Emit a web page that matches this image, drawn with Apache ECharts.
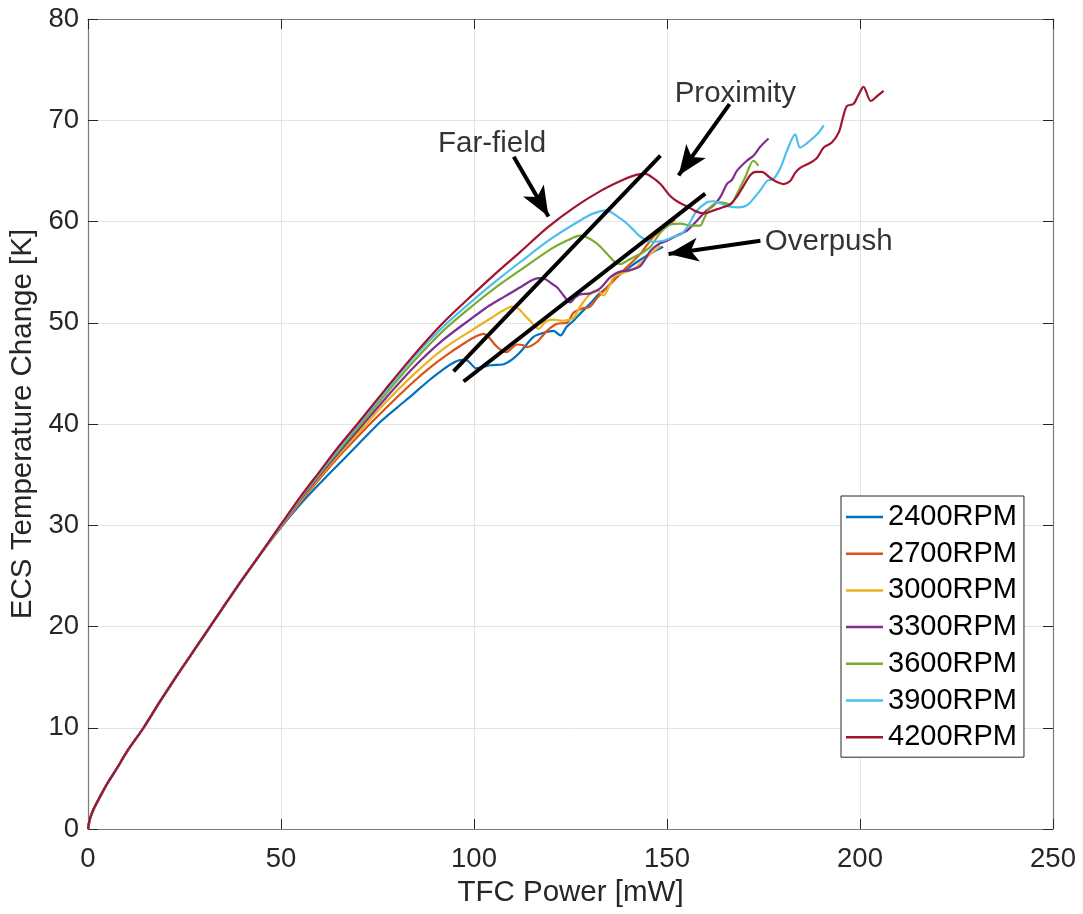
<!DOCTYPE html>
<html>
<head>
<meta charset="utf-8">
<script src="https://cdn.jsdelivr.net/npm/echarts@6/dist/echarts.min.js"></script>
<style>
html,body{margin:0;padding:0;background:#fff;}
#chart{width:1083px;height:914px;}
</style>
</head>
<body>
<div id="chart"></div>
<script>
// ---- data (TFC Power [mW], ECS Temperature Change [K]) ----
const seriesNames = ['2400RPM','2700RPM','3000RPM','3300RPM','3600RPM','3900RPM','4200RPM'];
const seriesColors = ['#0072BD','#D95319','#EDB120','#7E2F8E','#77AC30','#4DBEEE','#A2142F'];

const commonStart = [[0,0],[0.5,1.0],[1.5,2.0],[3,3.1],[5,4.5],[7.5,6.0],[10,7.6],[14.4,10.0],[18.5,12.5],[22.6,14.9],[26.5,17.1],[30.5,19.35],[34.5,21.6],[38.6,23.9],[44,26.8]];

const rpm2400 = [[50,29.8],[56,32.5],[62.8,35.2],[69,37.6],[75.7,40.2],[80,41.6],[84.4,43.0],[88,44.2],[91,45.1],[94,45.9],[96.5,46.3],[98,46.3],[99.3,45.9],[100.5,45.5],[102,45.6],[104.2,45.8],[107.7,45.9],[110,46.4],[112,47.1],[115.4,48.6],[118,49.0],[120.6,49.2],[122.4,48.75],[124,49.6],[125.8,50.2],[127.5,50.9],[130.1,51.9],[132.3,52.8],[134.5,53.5],[137,54.5],[140,55.4],[143,56.2],[146,56.9],[149,57.5]];
const rpm2700 = [[50,29.85],[55,32.3],[60,34.6],[65,36.8],[70,38.8],[77,41.5],[84.4,44.2],[89,45.7],[94,47.1],[98,48.1],[100.2,48.6],[102.5,48.9],[104,48.5],[105.5,47.8],[107,47.3],[108.4,47.1],[109.8,47.5],[111.1,47.85],[112.5,47.8],[113.7,47.6],[116.3,48.1],[118.9,49.2],[121.5,49.9],[124.1,50.0],[125.8,51.0],[128,51.4],[130.1,51.6],[132,52.5],[134.5,53.5],[136.5,54.3],[138.8,55.2],[141,56.0],[143.1,56.8],[146.5,58.5],[149.5,59.4],[152.1,60.2]];
const rpm3000 = [[50,29.9],[55,32.4],[60,34.75],[65,37.0],[70,39.1],[77,42.1],[84.4,44.9],[92,47.4],[100,49.4],[105,50.6],[108,51.3],[109.8,51.6],[111.5,51.4],[113,50.8],[114.5,50.2],[116,49.6],[116.7,49.4],[118.5,50.1],[120.5,50.3],[123,50.2],[125.8,50.5],[127.5,51.6],[130,52.8],[131.9,53.2],[133.6,52.7],[135,53.6],[136.2,54.5],[138.5,54.9],[141.3,55.3],[143.5,56.0],[145.7,56.8],[148.3,57.6]];
const rpm3300 = [[50,29.95],[55,32.5],[60,34.9],[65,37.2],[70,39.4],[77,42.5],[84.4,45.6],[92,48.3],[100,50.6],[104,51.7],[108,52.6],[112,53.5],[114.5,54.1],[116.7,54.4],[118.5,54.3],[120,53.9],[121.5,53.5],[123.2,52.7],[124.9,52.0],[126.2,52.5],[127.5,52.8],[130.1,52.9],[132.7,53.4],[135.3,54.5],[137.5,55.0],[140.4,55.2],[143.1,55.6],[145.7,57.1],[148,57.8],[150,58.1],[152.5,58.6],[155.2,59.1],[157.8,60.1],[160,61.0],[162.1,61.6],[163.8,62.4],[165.5,63.7],[166.8,64.1],[168.1,65.0],[170.7,66.0],[172.4,66.5],[174.2,67.4],[176.3,68.2]];
const rpm3600 = [[50,30.0],[55,32.6],[60,35.05],[65,37.4],[70,39.7],[77,42.9],[84.4,46.2],[92,49.2],[100,51.8],[106,53.6],[112,55.2],[120,57.3],[124,58.1],[127.5,58.6],[129.5,58.4],[131.9,57.8],[134.5,56.8],[136.5,56.0],[137.9,55.8],[139.6,56.1],[141.5,56.5],[143.1,56.8],[145.7,57.5],[148.3,58.9],[150.9,59.7],[153.5,59.8],[156,59.6],[158.6,59.6],[159.5,60.2],[161.2,61.4],[163.8,61.9],[166.4,61.7],[168.1,62.7],[170.3,64.4],[172.4,66.0],[173.7,65.5]];
const rpm3900 = [[50,30.05],[55,32.7],[60,35.2],[65,37.6],[70,39.95],[77,43.2],[84.4,46.6],[92,49.6],[100,52.3],[106,54.2],[112,56.0],[120,58.3],[127.5,60.1],[131,60.8],[134.3,61.1],[136,60.8],[137.9,60.3],[139.6,59.8],[141.5,59.1],[143.1,58.5],[145,58.1],[146.5,58.0],[149.1,58.1],[151.7,58.5],[153.5,58.7],[155.2,59.4],[156.5,60.3],[157.8,61.1],[160.4,61.9],[162,62.0],[163.8,61.8],[166,61.5],[168.5,61.4],[170.7,61.6],[172.5,62.3],[174.2,63.1],[175.9,64.0],[177.6,64.2],[179.4,65.3],[181.1,67.0],[183.2,68.6],[184.5,67.3],[187.1,68.0],[189.3,68.8],[190.6,69.5]];
const rpm4200 = [[50,30.1],[55,32.8],[60,35.3],[65,37.8],[70,40.1],[77,43.4],[84.4,46.8],[92,50.0],[100,52.9],[106,55.0],[112,57.0],[119,59.4],[126,61.4],[132.7,63.0],[138.5,64.1],[142,64.6],[144.4,64.7],[146,64.4],[148.3,63.7],[150.9,62.5],[153,61.9],[155.2,61.5],[157.5,61.0],[159.5,60.8],[162.1,61.1],[164.5,61.4],[166.4,61.7],[168,62.4],[169.8,63.5],[171.6,64.6],[173,64.9],[174.5,64.9],[176.8,64.3],[178.5,63.9],[180.2,63.7],[181.9,64.0],[183.2,64.8],[184.5,65.3],[187.1,65.8],[188.9,66.3],[190.6,67.3],[192.7,67.8],[194.5,68.8],[195.6,70.3],[196.6,71.4],[198.3,71.6],[199.6,72.5],[200.9,73.3],[202.8,71.9],[204.5,72.4],[206.1,72.9]];

const seriesTails = [rpm2400, rpm2700, rpm3000, rpm3300, rpm3600, rpm3900, rpm4200];

// annotation geometry in data units
const boundaryLines = [
  [[94.7,45.2],[148.3,66.5]],
  [[97.3,44.2],[159.9,62.75]]
];
const arrowLines = [
  [[110.3,66.4],[119.3,60.5]],   // Far-field
  [[166.2,71.6],[153.0,64.55]],  // Proximity
  [[174.2,58.1],[150.4,56.8]]    // Overpush
];
const annotationTexts = [
  {text:'Far-field', pos:[104.7,67.7]},
  {text:'Proximity', pos:[167.7,72.6]},
  {text:'Overpush', pos:[191.9,58.0]}
];

const xTicks = {min:0, max:250, interval:50};
const yTicks = {min:0, max:80, interval:10};

// ---- chart ----
const FONT = "'Liberation Sans', Arial, Helvetica, sans-serif";
const chart = echarts.init(document.getElementById('chart'), null, {renderer:'canvas'});

const series = seriesNames.map((name,i)=>({
  name: name,
  type: 'line',
  data: commonStart.concat(seriesTails[i]),
  showSymbol: false,
  symbol: 'none',
  smooth: 0.3,
  lineStyle: {width: 2.2, color: seriesColors[i]},
  itemStyle: {color: seriesColors[i]},
  emphasis: {disabled: true},
  silent: true,
  z: 2
}));

series.push({
  name: 'annotations',
  type: 'line',
  data: [],
  silent: true,
  z: 5,
  markLine: {
    silent: true,
    animation: false,
    label: {show: false},
    emphasis: {disabled: true},
    lineStyle: {color: '#000', width: 4, type: 'solid'},
    data: boundaryLines.map(l=>[
      {coord: l[0], symbol: 'none'},
      {coord: l[1], symbol: 'none'}
    ]).concat(arrowLines.map(l=>[
      {coord: l[0], symbol: 'none'},
      {coord: l[1], symbol: 'arrow', symbolSize: [18, 30]}
    ]))
  }
});

series.push({
  name: 'labels',
  type: 'scatter',
  silent: true,
  symbolSize: 0,
  z: 6,
  data: annotationTexts.map(a=>({value: a.pos, name: a.text})),
  label: {
    show: true,
    position: 'inside',
    formatter: p=>p.name,
    color: '#000000',
    textBorderWidth: 0,
    fontSize: 29.5,
    fontFamily: FONT
  }
});

const axisCommon = {
  axisLine: {show: true, onZero: false, lineStyle: {color: '#7a7a7a', width: 1.2}},
  axisTick: {show: true, inside: true, length: 10, lineStyle: {color: '#262626', width: 1}},
};

chart.setOption({
  animation: false,
  backgroundColor: '#ffffff',
  grid: {left: 88, top: 19, width: 965, height: 810, containLabel: false, outerBoundsMode: 'none'},
  legend: {
    show: true,
    data: seriesNames,
    orient: 'vertical',
    left: 841,
    top: 496,
    icon: 'rect',
    itemWidth: 37,
    itemHeight: 2.5,
    itemGap: 6.7,
    padding: [6, 7, 5, 5],
    backgroundColor: '#ffffff',
    borderColor: '#262626',
    borderWidth: 1,
    borderRadius: 0,
    selectedMode: false,
    textStyle: {fontSize: 29, fontFamily: FONT, color: '#000', lineHeight: 30},
    itemStyle: {borderWidth: 0}
  },
  xAxis: [
    Object.assign({
      type: 'value', position: 'bottom',
      min: xTicks.min, max: xTicks.max, interval: xTicks.interval,
      name: 'TFC Power [mW]', nameLocation: 'middle', nameGap: 46,
      nameTextStyle: {fontSize: 29.5, fontFamily: FONT, color: '#262626'},
      axisLabel: {fontSize: 27.5, fontFamily: FONT, color: '#262626', margin: 16},
      splitLine: {show: true, lineStyle: {color: '#e3e3e3', width: 1}}
    }, axisCommon),
    Object.assign({
      type: 'value', position: 'top',
      min: xTicks.min, max: xTicks.max, interval: xTicks.interval,
      axisLabel: {show: false}, splitLine: {show: false}
    }, axisCommon)
  ],
  yAxis: [
    Object.assign({
      type: 'value', position: 'left',
      min: yTicks.min, max: yTicks.max, interval: yTicks.interval,
      name: 'ECS Temperature Change [K]', nameLocation: 'middle', nameGap: 45,
      nameTextStyle: {fontSize: 29.5, fontFamily: FONT, color: '#262626'},
      axisLabel: {fontSize: 27.5, fontFamily: FONT, color: '#262626', margin: 9},
      splitLine: {show: true, lineStyle: {color: '#e3e3e3', width: 1}}
    }, axisCommon),
    Object.assign({
      type: 'value', position: 'right',
      min: yTicks.min, max: yTicks.max, interval: yTicks.interval,
      axisLabel: {show: false}, splitLine: {show: false}
    }, axisCommon)
  ],
  series: series
});
</script>
</body>
</html>
